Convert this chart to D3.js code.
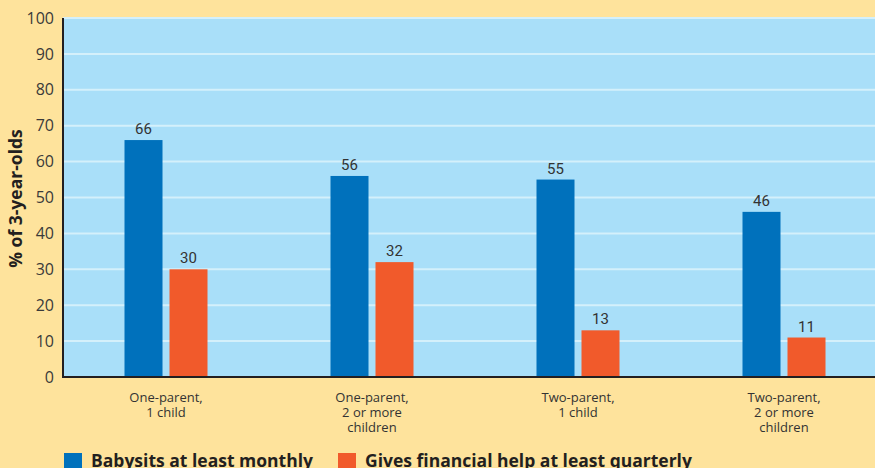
<!DOCTYPE html>
<html><head><meta charset="utf-8">
<script src="https://cdn.jsdelivr.net/npm/d3@7"></script>
<style>html,body{margin:0;padding:0;background:#fee39c;}svg{display:block;}</style>
</head><body>
<svg id="chart" width="875" height="468"></svg>
<script>
const categories = [["One-parent,","1 child"],["One-parent,","2 or more","children"],["Two-parent,","1 child"],["Two-parent,","2 or more","children"]];
const seriesNames = ["Babysits at least monthly","Gives financial help at least quarterly"];
const babysits = [66, 56, 55, 46];
const financial = [30, 32, 13, 11];
const yTicks = [0,10,20,30,40,50,60,70,80,90,100];
const colors = ["#0071bc", "#f15a2b"];

(function(){
const svg = d3.select("#chart");
const W = 875, H = 468;
const mLeft = 63, mTop = 18, mBottom = 377, mRight = 887;
svg.append("rect").attr("width", W).attr("height", H).attr("fill", "#fee39c");

const y = d3.scaleLinear().domain([0,100]).range([mBottom, mTop]);
const x0 = d3.scaleBand().domain(d3.range(categories.length)).range([mLeft, mRight]).paddingInner(0).paddingOuter(0);
const bw = 38, gap = 7;

svg.append("rect").attr("x", mLeft).attr("y", mTop).attr("width", W - mLeft).attr("height", mBottom - mTop).attr("fill", "#a9dff9");

svg.append("g").selectAll("line").data(yTicks.filter(d => d > 0)).join("line")
  .attr("x1", mLeft).attr("x2", W).attr("y1", d => y(d)).attr("y2", d => y(d))
  .attr("stroke", "#d4f0fb").attr("stroke-width", 2);

const data = categories.map((c, i) => ({i, vals: [babysits[i], financial[i]]}));
const g = svg.append("g");
data.forEach(d => {
  const cx = x0(d.i) + x0.bandwidth() / 2;
  d.vals.forEach((v, k) => {
    const bx = k === 0 ? cx - gap / 2 - bw : cx + gap / 2;
    g.append("rect").attr("x", bx).attr("y", y(v)).attr("width", bw).attr("height", y(0) - y(v)).attr("fill", colors[k]);
    g.append("text").attr("x", bx + bw / 2).attr("y", y(v) - 6).attr("text-anchor", "middle")
      .attr("font-family", "Roboto").attr("font-size", 15).attr("fill", "#333").text(v);
  });
});

const yAxis = d3.axisLeft(y).tickValues(yTicks).tickSize(0).tickPadding(9);
const ya = svg.append("g").attr("transform", `translate(${mLeft},0)`).call(yAxis);
ya.select(".domain").remove();
ya.selectAll("text").attr("font-family", "Open Sans").attr("font-size", 16).attr("fill", "#3a3a3a");
svg.append("line").attr("x1", mLeft).attr("x2", mLeft).attr("y1", mTop).attr("y2", mBottom + 1).attr("stroke", "#231f20").attr("stroke-width", 2);
svg.append("line").attr("x1", mLeft - 1).attr("x2", W).attr("y1", mBottom).attr("y2", mBottom).attr("stroke", "#231f20").attr("stroke-width", 2);

const xl = svg.append("g");
categories.forEach((lines, i) => {
  const cx = x0(i) + x0.bandwidth() / 2;
  lines.forEach((l, j) => xl.append("text").attr("x", cx).attr("y", 402 + j * 15).attr("text-anchor", "middle")
    .attr("font-family", "Open Sans").attr("font-size", 13).attr("fill", "#333").text(l));
});

svg.append("text").attr("transform", `translate(22,${(mTop + mBottom) / 2 + 1}) rotate(-90)`)
  .attr("text-anchor", "middle").attr("font-family", "Open Sans").attr("font-weight", "bold")
  .attr("font-size", 17.5).attr("fill", "#231f20").text("% of 3-year-olds");

const legX = [64, 338];
seriesNames.forEach((n, k) => {
  svg.append("rect").attr("x", legX[k]).attr("y", 453).attr("width", 18).attr("height", 18).attr("fill", colors[k]);
  svg.append("text").attr("x", legX[k] + 27).attr("y", 467).attr("font-family", "Open Sans").attr("font-weight", "bold")
    .attr("font-size", 17.5).attr("fill", "#231f20").text(n);
});
})();
</script>
</body></html>
